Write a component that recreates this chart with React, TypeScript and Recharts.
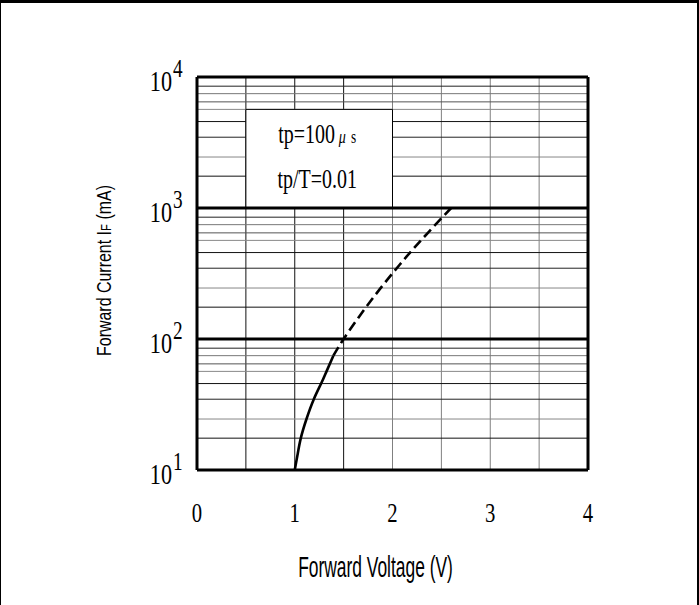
import React from 'react';
import { LineChart, Line, XAxis, YAxis, ReferenceLine, ReferenceArea, Label } from 'recharts';

// forward voltage (V) vs forward current (mA), log current axis
const voltTicks = [0, 1, 2, 3, 4];
const currentTicks = [10, 100, 1000, 10000];
const halfVolts = [0.5, 1, 1.5, 2, 2.5, 3, 3.5];
const decades = [10, 100, 1000];
const minorSteps = [1.75, 2.45, 3.47, 4.57, 5.66, 6.46, 7.46, 8.51];

const solidVolts = [1.0, 1.028, 1.062, 1.12, 1.195, 1.27, 1.325, 1.395];
const solidCurrent = [10, 13, 17.5, 24.5, 34.7, 45.7, 56.6, 74.6];
const dashVolts = [1.395, 1.5, 1.664, 1.866, 2.073, 2.206, 2.36, 2.6];
const dashCurrent = [74.6, 100, 150, 238, 369, 481, 644, 1000];

const solidData = solidVolts.map((v, i) => ({ v, i: solidCurrent[i] }));
const dashData = dashVolts.map((v, i) => ({ v, i: dashCurrent[i] }));

const SERIF = '"Liberation Serif", "Times New Roman", serif';
const SANS = '"Liberation Sans", Arial, sans-serif';

// text squeezed horizontally, like the narrow scanned fonts
const Sx = ({ x, y, size, family = SERIF, sx = 0.74, anchor = 'middle', rotate = 0, children }: any) => (
  <g transform={`translate(${x},${y}) rotate(${rotate}) scale(${sx},1)`}>
    <text x={0} y={0} textAnchor={anchor} fontSize={size} fontFamily={family} fill="#000">
      {children}
    </text>
  </g>
);

const XTick = ({ x, y, payload }: any) => (
  <Sx x={x} y={y + 44} size={28}>{payload.value}</Sx>
);

const YTick = ({ x, y, payload }: any) => {
  const exp = Math.round(Math.log10(payload.value));
  return (
    <g>
      <Sx x={x - 17} y={y + 14} size={30} anchor="end">10</Sx>
      <Sx x={x - 16} y={y} size={26} anchor="start">{exp}</Sx>
    </g>
  );
};

const XTitle = ({ viewBox }: any) => (
  <Sx x={viewBox.x + viewBox.width / 2 - 17} y={viewBox.y + 107} size={29} family={SANS} sx={0.6}>
    Forward Voltage (V)
  </Sx>
);

const YTitle = ({ viewBox }: any) => (
  <Sx x={viewBox.x - 26} y={viewBox.y + viewBox.height / 2 - 3} size={21} family={SANS} sx={0.76} rotate={-90}>
    Forward Current I<tspan fontSize={15}>F</tspan> (mA)
  </Sx>
);

const BoxLabel = ({ viewBox }: any) => {
  const cx = viewBox.x + viewBox.width / 2 - 2;
  return (
    <g>
      <Sx x={cx} y={viewBox.y + 34} size={27}>
        tp=100<tspan dx={5} fontSize={19} fontStyle="italic">μ</tspan>
        <tspan dx={7} fontSize={18}>s</tspan>
      </Sx>
      <Sx x={cx} y={viewBox.y + 79} size={27}>tp/T=0.01</Sx>
    </g>
  );
};

const minorColors = ['#111', '#888', '#222', '#111', '#888', '#555', '#777', '#222'];

const App: React.FC = () => {
  return (
    <div style={{ position: 'absolute', left: 0, top: 0, width: 699, height: 605, background: '#fff' }}>
      <LineChart
        width={699}
        height={605}
        margin={{ top: 77, right: 111, bottom: 75, left: 137 }}
        style={{ position: 'absolute', left: 0, top: 0 }}
      >
        <XAxis
          type="number"
          dataKey="v"
          domain={[0, 4]}
          ticks={voltTicks}
          axisLine={false}
          tickLine={false}
          height={60}
          tick={<XTick />}
          allowDataOverflow
        >
          <Label content={<XTitle />} />
        </XAxis>
        <YAxis
          type="number"
          dataKey="i"
          scale="log"
          domain={[10, 10000]}
          ticks={currentTicks}
          axisLine={false}
          tickLine={false}
          width={60}
          tick={<YTick />}
          allowDataOverflow
        >
          <Label content={<YTitle />} />
        </YAxis>

        {halfVolts.map((v) => (
          <ReferenceLine key={`v${v}`} x={v} stroke={v < 2 ? '#111' : '#808080'} strokeWidth={1} zIndex={100} />
        ))}
        {decades.flatMap((d) =>
          minorSteps.map((m, k) => (
            <ReferenceLine key={`h${d}-${m}`} y={d * m} stroke={minorColors[k]} strokeWidth={1} zIndex={100} />
          ))
        )}

        <ReferenceArea
          x1={0.5}
          x2={2}
          y1={1000}
          y2={5660}
          fill="#fff"
          fillOpacity={1}
          stroke="#000"
          strokeWidth={1}
          zIndex={200}
          label={<BoxLabel />}
        />

        <ReferenceLine y={100} stroke="#000" strokeWidth={3} zIndex={300} />
        <ReferenceLine y={1000} stroke="#000" strokeWidth={3} zIndex={300} />
        <ReferenceLine y={10} stroke="#000" strokeWidth={3} zIndex={300} />
        <ReferenceLine y={10000} stroke="#000" strokeWidth={3} zIndex={300} />
        <ReferenceLine x={0} stroke="#000" strokeWidth={3} zIndex={300} />
        <ReferenceLine x={4} stroke="#000" strokeWidth={3} zIndex={300} />

        <Line
          data={solidData}
          dataKey="i"
          type="natural"
          stroke="#000"
          strokeWidth={2.6}
          dot={false}
          isAnimationActive={false}
          zIndex={400}
        />
        <Line
          data={dashData}
          dataKey="i"
          type="natural"
          stroke="#000"
          strokeWidth={2.6}
          strokeDasharray="10 5"
          dot={false}
          isAnimationActive={false}
          zIndex={400}
        />
      </LineChart>
      <div
        style={{
          position: 'absolute',
          left: 0,
          top: 0,
          width: 699,
          height: 605,
          boxSizing: 'border-box',
          borderTop: '3px solid #000',
          borderLeft: '1px solid #000',
          borderRight: '2px solid #000',
          pointerEvents: 'none',
        }}
      />
    </div>
  );
};

export default App;
